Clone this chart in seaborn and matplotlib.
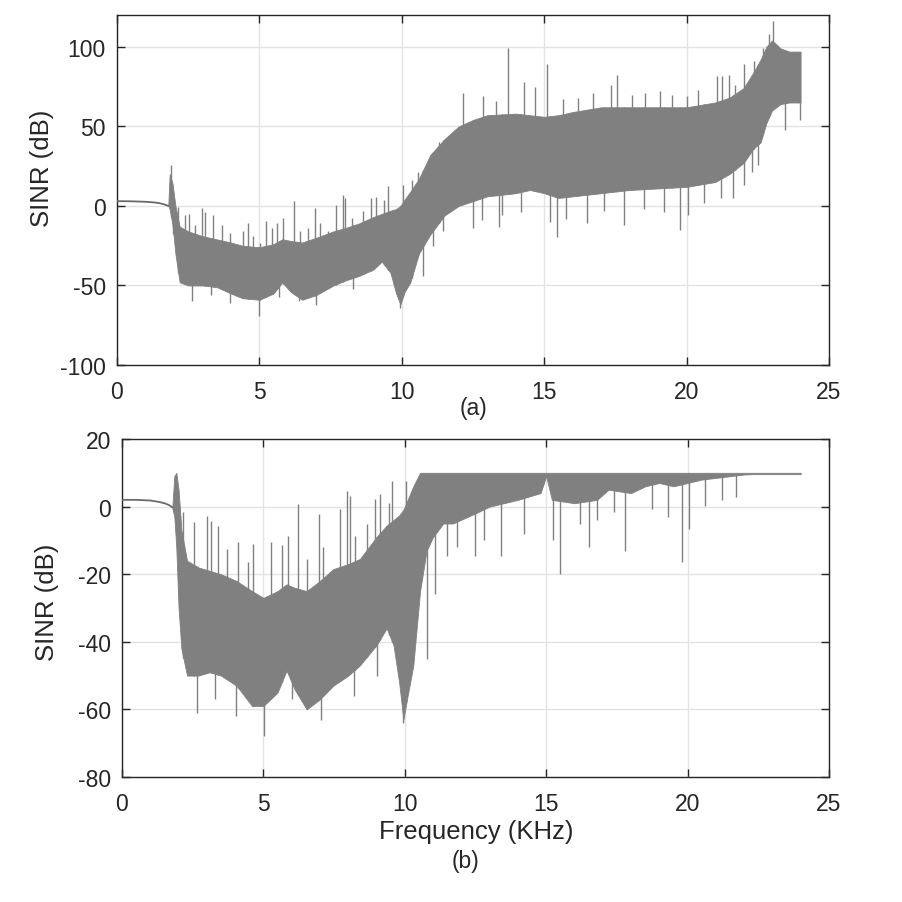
import numpy as np
import pandas as pd
import matplotlib
matplotlib.use("Agg")
import matplotlib.pyplot as plt
import seaborn as sns

# ---------------- data ----------------
# Panel (a): smooth low-frequency part
fa_start = [0.0, 0.5, 1.0, 1.3, 1.5, 1.65, 1.8]
va_start = [3.0, 2.9, 2.6, 2.2, 1.7, 1.0, 0.0]
# Panel (a): dense band envelope (lower / upper)
fa_band = [1.8, 1.85, 1.95, 2.05, 2.2, 2.5, 3.0, 3.5, 4.0, 4.4, 5.0, 5.5, 5.8, 6.1,
           6.5, 7.0, 7.6, 8.0, 8.5, 9.0, 9.3, 9.6, 9.8, 9.95, 10.1, 10.3, 10.6,
           11.0, 11.5, 12.0, 12.5, 13.0, 14.0, 14.5, 15.0, 15.5, 16.0, 17.0, 18.0,
           19.0, 20.0, 21.0, 21.5, 22.0, 22.35, 22.6, 22.8, 23.0, 23.3, 23.6, 24.0]
la_band = [0, -2, -12, -30, -48, -50, -50, -51, -55, -58, -59, -55, -48, -54,
           -59, -56, -50, -47, -44, -40, -35, -42, -55, -62, -54, -48, -30,
           -18, -6, 0, 3, 6, 8, 10, 8, 5, 6, 8, 10,
           11, 12, 15, 20, 27, 36, 40, 52, 60, 64, 65, 65]
ua_band = [0, 20, 14, 0, -13, -16, -19, -21, -23, -25, -26, -24, -21, -22,
           -23, -20, -16, -14, -11, -7, -5, -3, -2, 0, 4, 9, 17,
           32, 42, 50, 54, 57, 58, 57, 56, 57, 59, 62, 62,
           62, 62, 65, 68, 74, 84, 92, 100, 104, 99, 97, 97]
# Panel (a): isolated spikes (frequency kHz, value dB)
fa_spk_up = [1.9, 1.98, 2.15, 2.39, 2.54, 2.74, 2.97, 3.09, 3.36, 3.68, 3.97, 4.41,
             4.59, 4.79, 5.02, 5.23, 5.43, 5.63, 5.84, 6.21, 6.43, 6.72, 6.94, 7.13,
             7.42, 7.68, 7.92, 8.02, 8.24, 8.63, 8.92, 9.09, 9.38, 9.53, 10.05,
             10.35, 10.58, 11.3, 12.16, 12.86, 13.3, 13.74, 14.3, 14.68, 15.09,
             15.67, 16.2, 16.72, 17.33, 17.57, 18.1, 18.54, 19.07, 19.48, 20.0,
             20.41, 21.05, 21.23, 21.5, 21.7, 22.0, 22.35, 22.7, 22.9, 23.05]
va_spk_up = [26, -1.6, -0.6, -5.8, -4.8, -12, -1.6, -3.7, -5.8, -12, -17, -16,
             -11, -19, -23.6, -9.6, -13.8, -10.7, -7.5, 2.8, -16, -13.8, -1.6, -10.7,
             -16, 0.5, 6.8, 4.7, -7.5, -3.3, 4.7, 5.7, 3.6, 12.3, 13.4,
             16.3, 21.5, 40, 71, 69, 66, 99, 78, 75, 89,
             67, 68, 71, 76, 82.5, 70, 71, 72, 70, 69,
             73, 81.5, 81.5, 82.5, 76, 89, 91, 99, 108, 116]
fa_spk_dn = [2.62, 3.3, 3.97, 4.99, 5.7, 6.4, 6.98, 8.3, 9.94, 10.75, 11.08, 11.46,
             12.51, 12.8, 13.41, 13.52, 14.2, 15.2, 15.46, 15.75, 16.49, 17.1, 17.8,
             18.5, 19.2, 19.77, 20.06, 20.6, 21.2, 21.64, 22.0, 22.3, 22.5, 23.45,
             23.98]
va_spk_dn = [-60, -56, -61, -69, -57, -60, -62, -52, -64, -44, -25, -16,
             -14, -9, -13, -6, -4, -10, -19.4, -8, -11, -3, -12,
             -2, -4, -15, -6, 1.6, 5, 4.7, 13, 21.6, 25.8, 48,
             54]

# Panel (b): smooth low-frequency part
fb_start = [0.0, 0.5, 1.0, 1.3, 1.5, 1.65, 1.78]
vb_start = [2.0, 2.0, 1.8, 1.4, 1.0, 0.5, -0.2]
# Panel (b): dense band envelope (lower / upper)
fb_band = [1.78, 1.85, 1.92, 2.0, 2.1, 2.3, 2.7, 3.1, 3.5, 4.05, 4.6, 5.0, 5.5, 5.82,
           6.1, 6.53, 7.0, 7.47, 8.0, 8.41, 9.0, 9.36, 9.6, 9.8, 9.95, 10.1, 10.3,
           10.54, 10.77, 11.0, 11.36, 11.7, 12.5, 13.0, 14.0, 14.8, 15.0, 15.2, 16.0,
           16.8, 17.2, 18.0, 18.5, 19.0, 19.5, 20.0, 20.5, 21.0, 21.5, 22.0, 22.3, 24.0]
lb_band = [-0.5, -3, -12, -30, -42, -50, -50, -49, -50, -53, -59, -59, -55, -48.5,
           -54, -60, -57, -53, -50, -47, -41, -36, -41, -52, -63, -56, -47,
           -25, -13, -9, -5, -5, -2, 0, 2, 4, 9, 2, 1,
           2, 5, 4, 6, 7, 6, 7, 8, 8.5, 9, 9.5, 9.6, 9.6]
ub_band = [-0.2, 9, 10, 5, -7, -16, -18, -19, -20, -22, -25, -27, -25, -23,
           -24, -25, -22, -18.5, -17, -15.5, -9, -5.6, -4, -2.6, -1, 2, 6,
           10, 10, 10, 10, 10, 10, 10, 10, 10, 10, 10, 10,
           10, 10, 10, 10, 10, 10, 10, 10, 10, 10, 10, 10, 10]
# Panel (b): isolated spikes (frequency kHz, value dB)
fb_spk_up = [2.17, 2.56, 3.0, 3.14, 3.41, 3.7, 4.1, 4.44, 4.62, 5.27, 5.65, 5.86,
             6.23, 6.53, 6.97, 7.12, 7.71, 7.97, 8.06, 8.24, 8.65, 8.95, 9.12, 9.45,
             9.56, 10.06]
vb_spk_up = [-1.7, -4.7, -2.7, -4.2, -5.6, -12.5, -10.5, -16.4, -11, -10.5, -11.5, -8.6,
             0.8, -15.5, -2.2, -12, -0.7, 4.7, 3.2, -8.6, -5.2, 2.2, 3.7, 1.2,
             7.7, 7.7]
fb_spk_dn = [2.64, 3.3, 4.03, 5.02, 6.0, 7.02, 8.2, 9.0, 9.95, 10.77, 11.07, 11.48,
             11.83, 12.5, 12.8, 13.4, 14.2, 15.25, 15.5, 16.2, 16.5, 16.8, 17.4, 17.8,
             18.75, 19.3, 19.8, 20.05, 20.6, 21.2, 21.7]
vb_spk_dn = [-61, -57, -62, -68, -57, -63, -56, -50, -64, -45, -26, -14.5,
             -12, -14.5, -10, -14.5, -8, -10, -20, -5, -12, -4, -1.6, -13,
             -0.6, -3, -16.5, -6.6, 0.3, 2, 2.8]

xticks = [0, 5, 10, 15, 20, 25]
yticks_a = [-100, -50, 0, 50, 100]
yticks_b = [-80, -60, -40, -20, 0, 20]

# ---------------- style ----------------
sns.set_theme(style="whitegrid")
plt.rcParams["font.family"] = ["Liberation Sans", "DejaVu Sans"]
plt.rcParams.update({
    "axes.edgecolor": "#262626",
    "axes.linewidth": 1.0,
    "grid.color": "#e3e3e3",
    "grid.linewidth": 1.0,
    "xtick.direction": "in",
    "ytick.direction": "in",
})

GRAY = "#808080"
LINE = "#6a6a6a"

fig = plt.figure(figsize=(9.03, 9.03), dpi=100)
W = H = 903.0
ax_a = fig.add_axes([117 / W, 1 - 366 / H, (829 - 117) / W, (366 - 16) / H])
ax_b = fig.add_axes([122 / W, 1 - 778 / H, (829 - 122) / W, (778 - 440) / H])


def draw(ax, f_start, v_start, f_band, lo, hi, fsu, vsu, fsd, vsd):
    df = pd.DataFrame({"f": f_start, "v": v_start})
    sns.lineplot(data=df, x="f", y="v", ax=ax, color=LINE, lw=1.3, zorder=3)
    base_up = np.interp(fsu, f_band, lo)
    ax.vlines(fsu, base_up, vsu, color=GRAY, lw=1.0, zorder=2)
    base_dn = np.interp(fsd, f_band, hi)
    ax.vlines(fsd, vsd, base_dn, color=GRAY, lw=1.0, zorder=2)
    ax.fill_between(f_band, lo, hi, color=GRAY, lw=0.6, edgecolor=GRAY, zorder=2.5)


draw(ax_a, fa_start, va_start, fa_band, la_band, ua_band,
     fa_spk_up, va_spk_up, fa_spk_dn, va_spk_dn)
draw(ax_b, fb_start, vb_start, fb_band, lb_band, ub_band,
     fb_spk_up, vb_spk_up, fb_spk_dn, vb_spk_dn)

for ax, yt, ylim in [(ax_a, yticks_a, (-100, 120)), (ax_b, yticks_b, (-80, 20))]:
    ax.set_xlim(0, 25)
    ax.set_ylim(*ylim)
    ax.set_xticks(xticks)
    ax.set_yticks(yt)
    ax.set_xticklabels([str(t) for t in xticks])
    ax.set_yticklabels([str(t) for t in yt])
    ax.tick_params(axis="both", which="both", direction="in", length=6, width=1.0,
                   color="#262626", labelsize=16.5, labelcolor="#262626",
                   top=True, right=True, bottom=True, left=True)
    ax.tick_params(axis="x", pad=11)
    ax.tick_params(axis="y", pad=8)
    ax.grid(True, color="#e3e3e3", lw=1.0)
    ax.set_axisbelow(True)
    for s in ax.spines.values():
        s.set_visible(True)
        s.set_color("#262626")
        s.set_linewidth(1.0)
    ax.set_ylabel("SINR (dB)", fontsize=18.5, color="#262626")
    ax.set_xlabel("")

ax_a.yaxis.label.set_verticalalignment("center")
ax_a.yaxis.set_label_coords((41.7 - 117) / 712, (366 - 168.5) / 350)
ax_b.yaxis.label.set_verticalalignment("center")
ax_b.yaxis.set_label_coords((46.7 - 122) / 707, (778 - 602.5) / 338)

ax_b.set_xlabel("Frequency (KHz)", fontsize=18.5, color="#262626")
ax_b.xaxis.label.set_verticalalignment("center")
ax_b.xaxis.set_label_coords((476 - 122) / 707, (778 - 832) / 338)

fig.text(474 / W, 1 - 409 / H, "(a)", ha="center", va="center", fontsize=16.5, color="#262626")
fig.text(466 / W, 1 - 862 / H, "(b)", ha="center", va="center", fontsize=16.5, color="#262626")

fig.savefig("out.png", dpi=100, facecolor="white")
